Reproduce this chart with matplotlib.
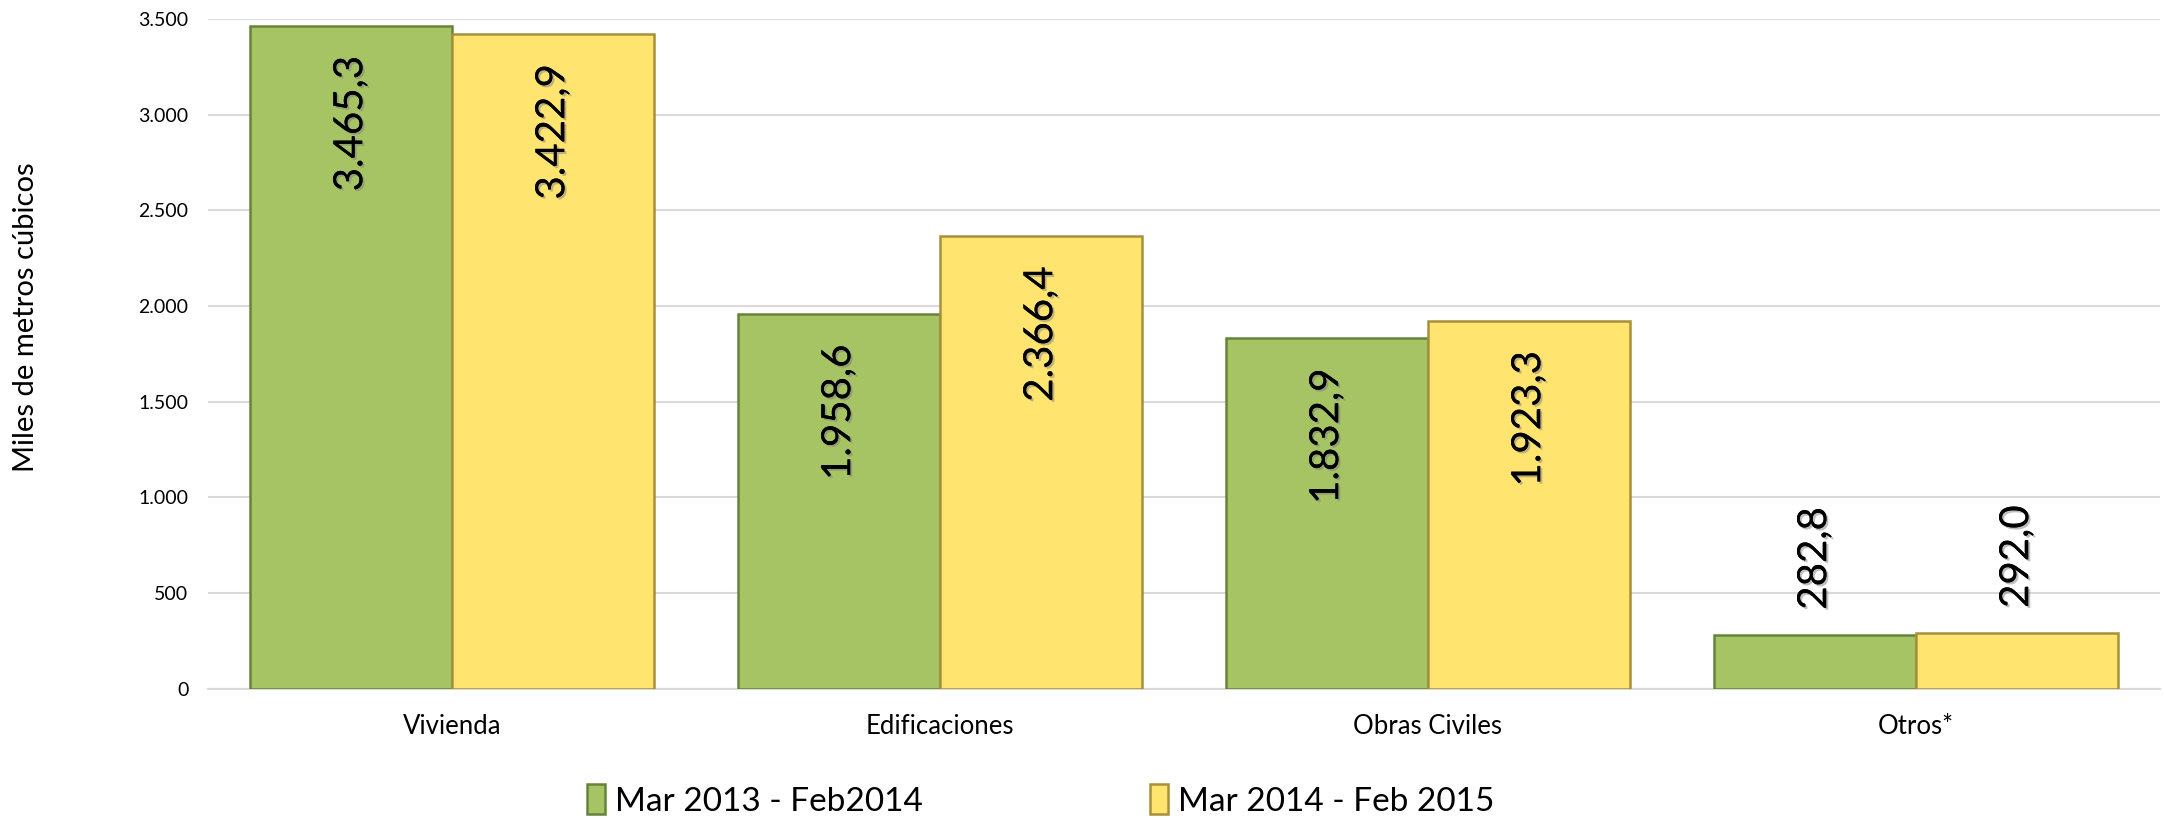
import numpy as np
import matplotlib
matplotlib.use("Agg")
import matplotlib.pyplot as plt
import matplotlib.patheffects as pe

# Data
categories = ["Vivienda", "Edificaciones", "Obras Civiles", "Otros*"]
series_names = ["Mar 2013 - Feb2014", "Mar 2014 - Feb 2015"]
values_2013 = [3465.3, 1958.6, 1832.9, 282.8]
values_2014 = [3422.9, 2366.4, 1923.3, 292.0]
yticks = [0, 500, 1000, 1500, 2000, 2500, 3000, 3500]
ytick_labels = ["0", "500", "1.000", "1.500", "2.000", "2.500", "3.000", "3.500"]

GREEN = "#A6C463"
GREEN_EDGE = "#66833A"
YELLOW = "#FFE470"
YELLOW_EDGE = "#A8903A"

plt.rcParams["font.family"] = ["Lato", "DejaVu Sans"]


def fmt(v):
    s = f"{v:,.1f}"
    return s.replace(",", "X").replace(".", ",").replace("X", ".")


fig = plt.figure(figsize=(21.64, 8.21), dpi=100)
ax = fig.add_axes([0.096, 0.161, 0.902, 0.816])

x = np.arange(len(categories))
width = 0.414
bars1 = ax.bar(x - width / 2, values_2013, width, color=GREEN,
               edgecolor=GREEN_EDGE, linewidth=1.8, label=series_names[0], zorder=3)
bars2 = ax.bar(x + width / 2, values_2014, width, color=YELLOW,
               edgecolor=YELLOW_EDGE, linewidth=1.8, label=series_names[1], zorder=3)

shadow = [pe.withSimplePatchShadow(offset=(1.5, -1.5), shadow_rgbFace="gray", alpha=0.5), pe.Normal()]

for bars in (bars1, bars2):
    for b in bars:
        h = b.get_height()
        cx = b.get_x() + b.get_width() / 2
        if h > 1000:
            ax.annotate(fmt(h), (cx, h), xytext=(0, -22), textcoords="offset points",
                        rotation=90, ha="center", va="top", fontsize=29,
                        zorder=4, path_effects=shadow)
        else:
            ax.annotate(fmt(h), (cx, h), xytext=(0, 18), textcoords="offset points",
                        rotation=90, ha="center", va="bottom", fontsize=29,
                        zorder=4, path_effects=shadow)

ax.set_xlim(-0.5, len(categories) - 0.5)
ax.set_ylim(0, 3500)
ax.set_yticks(yticks)
ax.set_yticklabels(ytick_labels, fontsize=14)
ax.set_xticks(x)
ax.set_xticklabels(categories, fontsize=18.5)
ax.tick_params(axis="both", length=0)
ax.tick_params(axis="y", pad=14)
ax.tick_params(axis="x", pad=18)
ax.grid(axis="y", color="#D9D9D9", linewidth=1.5, zorder=0)
for s in ["top", "right", "left"]:
    ax.spines[s].set_visible(False)
ax.spines["bottom"].set_color("#D9D9D9")
ax.spines["bottom"].set_linewidth(1.5)

fig.text(0.012, 1 - 317 / 821, "Miles de metros cúbicos", rotation=90,
         ha="center", va="center", fontsize=21)

fig.legend(handles=[bars1, bars2], labels=series_names, loc="center",
           bbox_to_anchor=(0.481, 0.025), ncol=2, frameon=False, fontsize=24,
           handlelength=0.55, handleheight=1.0, handletextpad=0.3, columnspacing=6.8)

fig.savefig("out.png", dpi=100)
